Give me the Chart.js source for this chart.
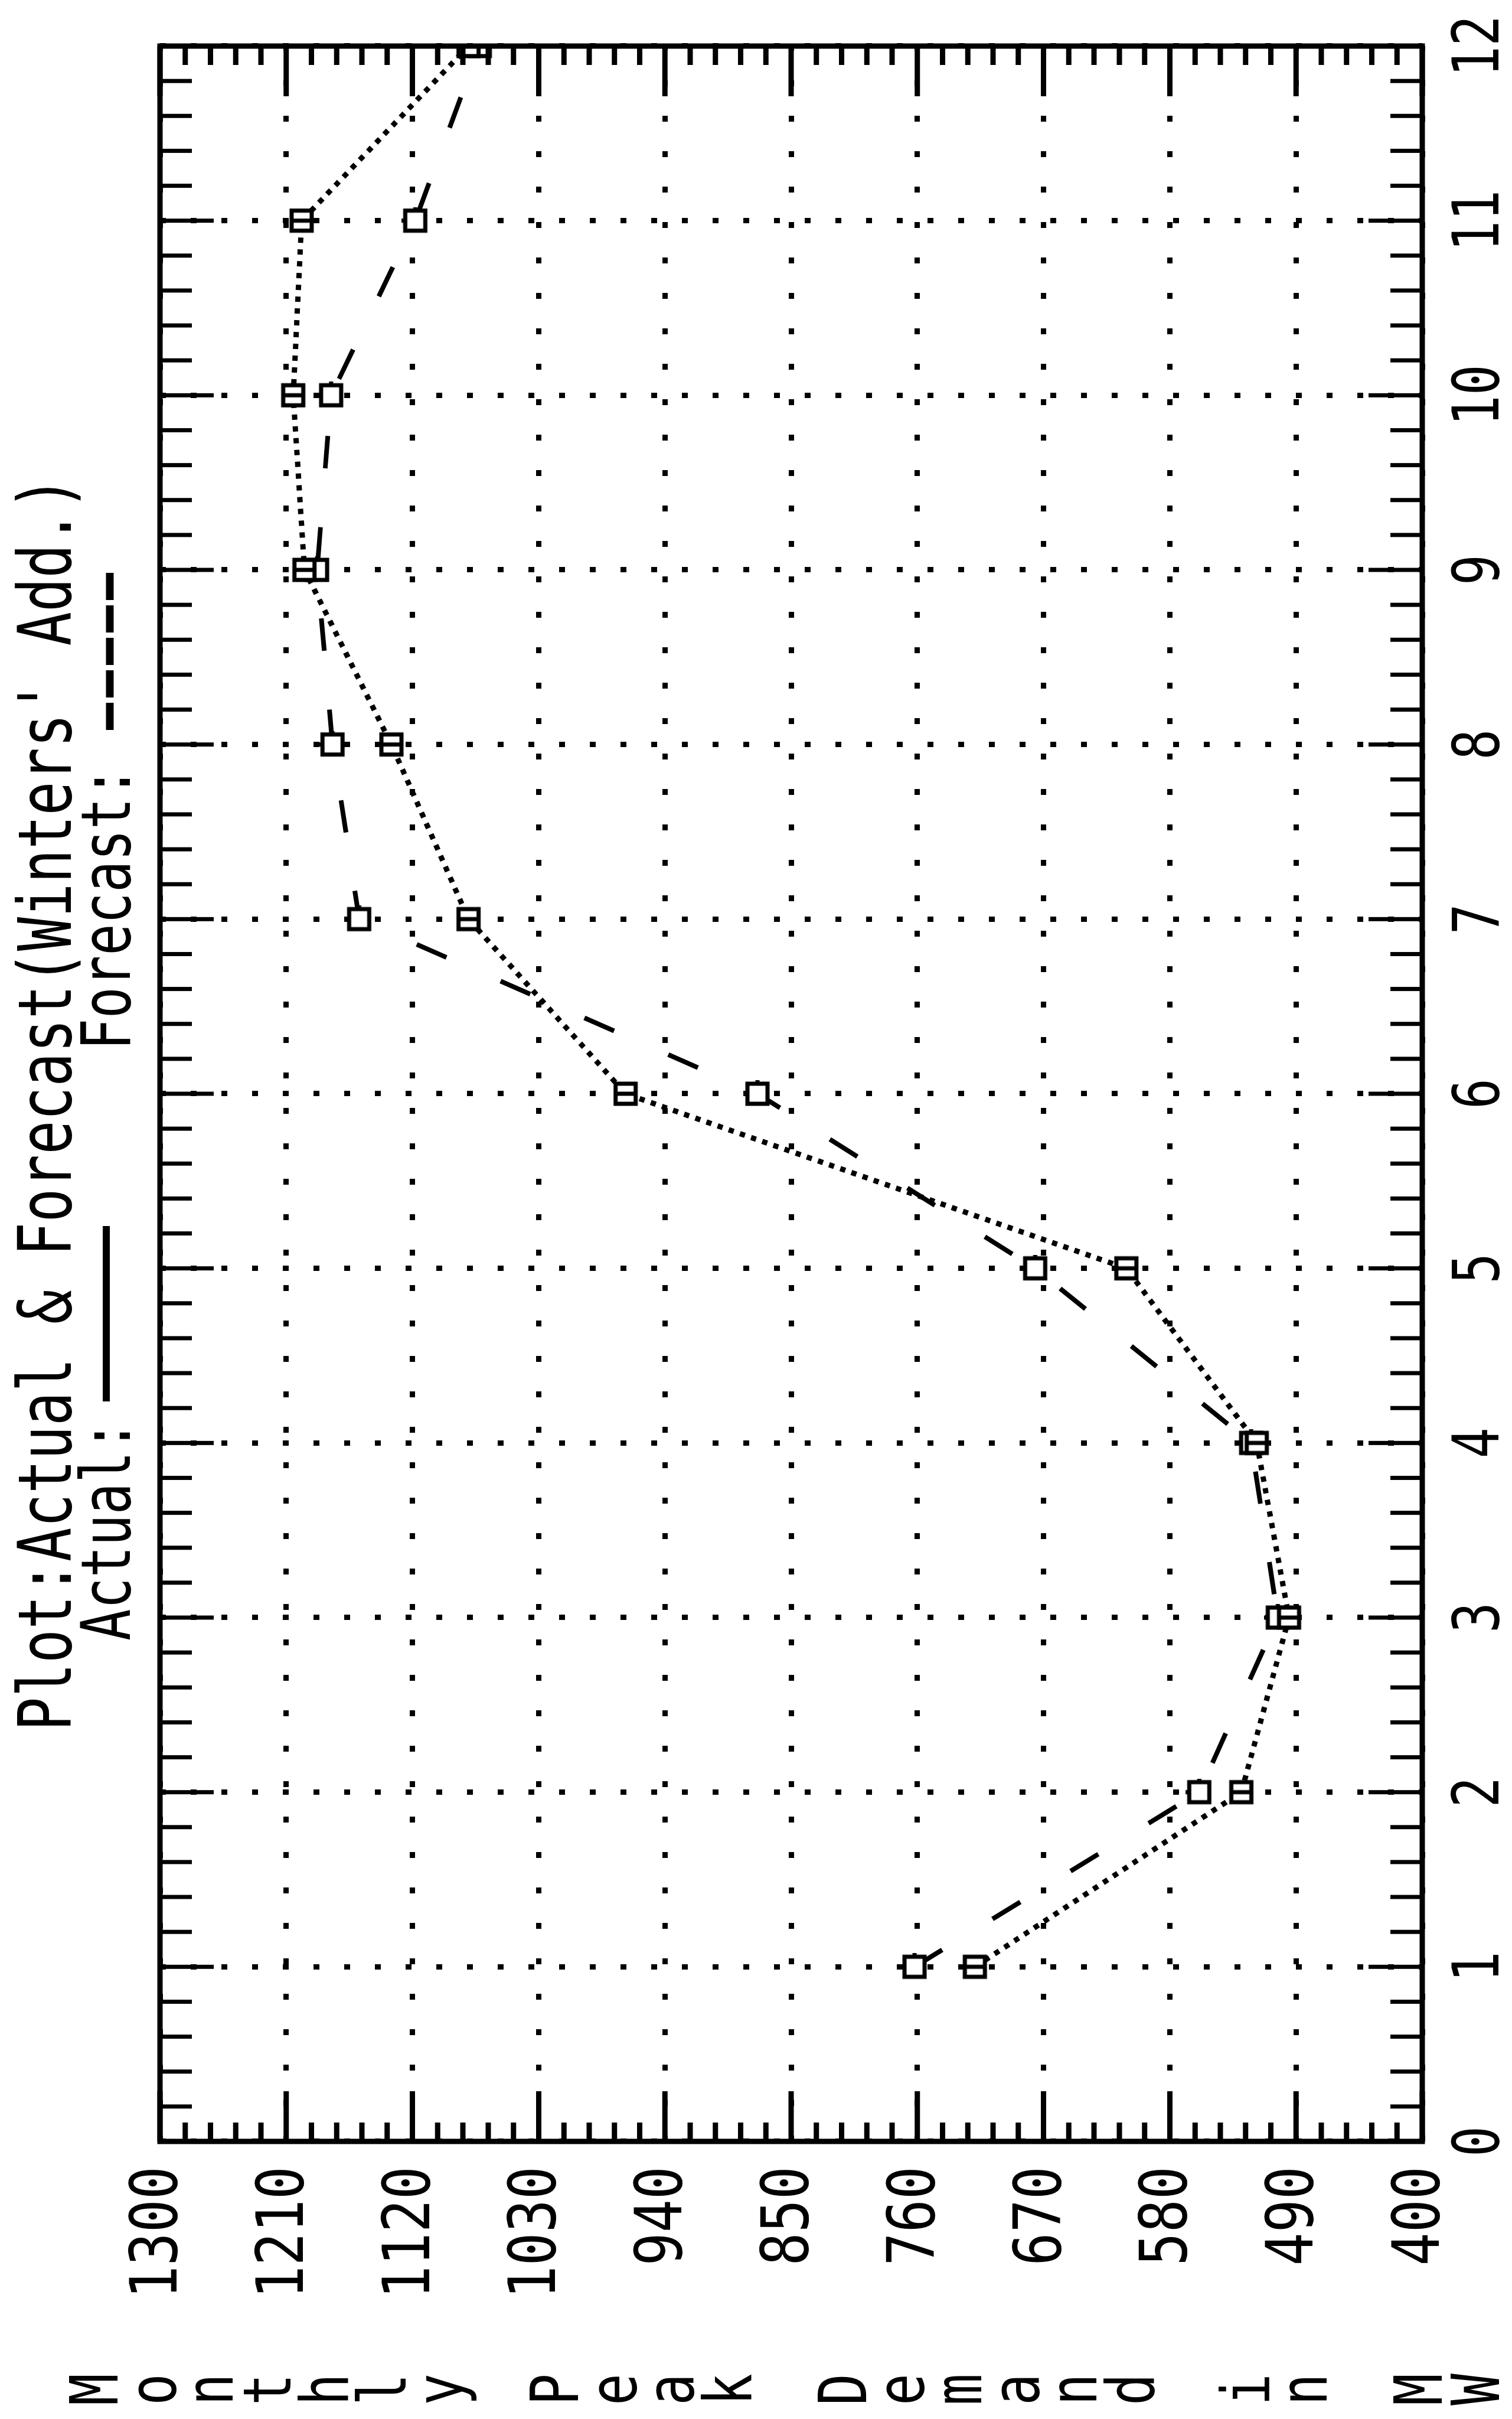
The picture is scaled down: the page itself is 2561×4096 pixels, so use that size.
<!DOCTYPE html>
<html>
<head>
<meta charset="utf-8">
<script src="https://cdn.jsdelivr.net/npm/chart.js@4.4.1/dist/chart.umd.min.js"></script>
<style>
  html, body { margin: 0; padding: 0; background: #fff; }
  body { width: 2561px; height: 4096px; overflow: hidden; position: relative; }
  #plot {
    position: absolute; left: 0; top: 0;
    width: 4096px; height: 2561px;
    transform-origin: 0 0;
    transform: translate(0px, 4096px) rotate(-90deg);
  }
</style>
</head>
<body>
<canvas id="plot" width="4096" height="2561"></canvas>
<script>
// values (months 1..12, MW)
const months = [1, 2, 3, 4, 5, 6, 7, 8, 9, 10, 11, 12];
const actualMW = [719, 529, 495, 518, 611, 968, 1080, 1135, 1197, 1205, 1199, 1080];
const forecastMW = [762, 559, 503, 522, 676, 874, 1158, 1177, 1188, 1178, 1118, 1072];
const monthTicks = [0, 1, 2, 3, 4, 5, 6, 7, 8, 9, 10, 11, 12];
const demandTicks = [400, 490, 580, 670, 760, 850, 940, 1030, 1120, 1210, 1300];
const titleText = "Plot:Actual & Forecast(Winters' Add.)";
const legendActual = 'Actual:';
const legendForecast = 'Forecast:';
const axisTitle = 'Monthly Peak Demand in MW';

const MONO = '"DejaVu Sans Mono", "Liberation Mono", monospace';

// marker glyphs, printer style
function makeMarker(withBar) {
    const c = document.createElement('canvas'); c.width = 46; c.height = 46;
    const g = c.getContext('2d');
    g.fillStyle = '#fff'; g.fillRect(5, 5, 36, 36);
    g.strokeStyle = '#000'; g.lineWidth = 7; g.strokeRect(6, 6, 34, 34);
    g.beginPath();
    if (withBar) { g.moveTo(23, 6); g.lineTo(23, 40); }
    else { g.moveTo(40, 23); g.lineTo(46, 23); g.moveTo(23, 0); g.lineTo(23, 6); }
    g.stroke();
    return c;
}
const actualMarker = makeMarker(true);
const forecastMarker = makeMarker(false);

function squeezeText(ctx, str, x, y, size, sx, align) {
    ctx.save();
    ctx.font = size + 'px ' + MONO;
    ctx.textAlign = align; ctx.textBaseline = 'alphabetic';
    ctx.translate(x, y); ctx.scale(sx, 1);
    ctx.fillText(str, 0, 0);
    ctx.restore();
}

const printerFrame = {
    id: 'printerFrame',
    afterDraw(chart) {
        const { ctx, chartArea: a, scales: { x, y } } = chart;
        ctx.save();
        ctx.strokeStyle = '#000'; ctx.fillStyle = '#000'; ctx.lineCap = 'butt';

        // inward ticks, month axis (5 per month)
        ctx.lineWidth = 7;
        for (let i = 0; i <= 60; i++) {
            const px = x.getPixelForValue(i / 5); const len = i % 5 === 0 ? 91 : 54;
            ctx.beginPath();
            ctx.moveTo(px, a.bottom); ctx.lineTo(px, a.bottom - len);
            ctx.moveTo(px, a.top); ctx.lineTo(px, a.top + len);
            ctx.stroke();
        }
        // inward ticks, demand axis (every 18 MW)
        ctx.lineWidth = 9;
        for (let i = 0; i <= 50; i++) {
            const py = y.getPixelForValue(400 + i * 18); const len = i % 5 === 0 ? 85 : 32;
            ctx.beginPath();
            ctx.moveTo(a.left, py); ctx.lineTo(a.left + len, py);
            ctx.moveTo(a.right, py); ctx.lineTo(a.right - len, py);
            ctx.stroke();
        }
        ctx.lineWidth = 9; ctx.strokeRect(a.left, a.top, a.right - a.left, a.bottom - a.top);

        // tick labels
        demandTicks.forEach(v => squeezeText(ctx, String(v), a.left - 42, y.getPixelForValue(v) + 28, 111, 0.84, 'right'));
        monthTicks.forEach(m => squeezeText(ctx, String(m), x.getPixelForValue(m), a.bottom + 50 + 79, 108, 0.8, 'center'));

        // stacked axis title
        [...axisTitle].forEach((ch, i) => {
            if (ch !== ' ') squeezeText(ctx, ch, 50, 158 + i * 97.5 + 41, 112, 0.8, 'center');
        });

        // title and legend lines
        squeezeText(ctx, titleText, 1165, 120, 125, 0.763, 'left');
        squeezeText(ctx, legendActual, 1318, 220, 115, 0.771, 'left');
        ctx.lineWidth = 12;
        ctx.beginPath(); ctx.moveTo(1723, 180); ctx.lineTo(2020, 180); ctx.stroke();
        squeezeText(ctx, legendForecast, 2318, 220, 115, 0.771, 'left');
        ctx.lineWidth = 13; ctx.setLineDash([46, 9]);
        ctx.beginPath(); ctx.moveTo(2860, 186); ctx.lineTo(3127, 186); ctx.stroke();
        ctx.restore();
    }
};

new Chart(document.getElementById('plot'), {
    type: 'line',
    data: {
        datasets: [
            {
                label: 'Actual', data: months.map((m, i) => ({ x: m, y: actualMW[i] })),
                borderColor: '#000', borderWidth: 9, borderDash: [9, 11], tension: 0,
                pointStyle: actualMarker, pointRadius: 20
            },
            {
                label: 'Forecast', data: months.map((m, i) => ({ x: m, y: forecastMW[i] })),
                borderColor: '#000', borderWidth: 8, borderDash: [55, 100], tension: 0,
                pointStyle: forecastMarker, pointRadius: 20
            }
        ]
    },
    options: {
        responsive: false, animation: false, devicePixelRatio: 1,
        layout: { padding: { left: 470, right: 78, top: 271, bottom: 152 } },
        plugins: { legend: { display: false }, tooltip: { enabled: false } },
        scales: {
            x: {
                type: 'linear', min: 0, max: 12,
                afterBuildTicks: s => { s.ticks = monthTicks.map(v => ({ value: v })); },
                afterFit: s => { s.height = 0; },
                ticks: { display: false },
                grid: { color: '#000', lineWidth: 9, drawTicks: false },
                border: { display: false, dash: [10, 42] }
            },
            y: {
                type: 'linear', min: 400, max: 1300,
                afterBuildTicks: s => { s.ticks = demandTicks.map(v => ({ value: v })); },
                afterFit: s => { s.width = 0; },
                ticks: { display: false },
                grid: { color: '#000', lineWidth: 9, drawTicks: false },
                border: { display: false, dash: [10, 50] }
            }
        }
    },
    plugins: [printerFrame]
});
</script>
</body>
</html>
